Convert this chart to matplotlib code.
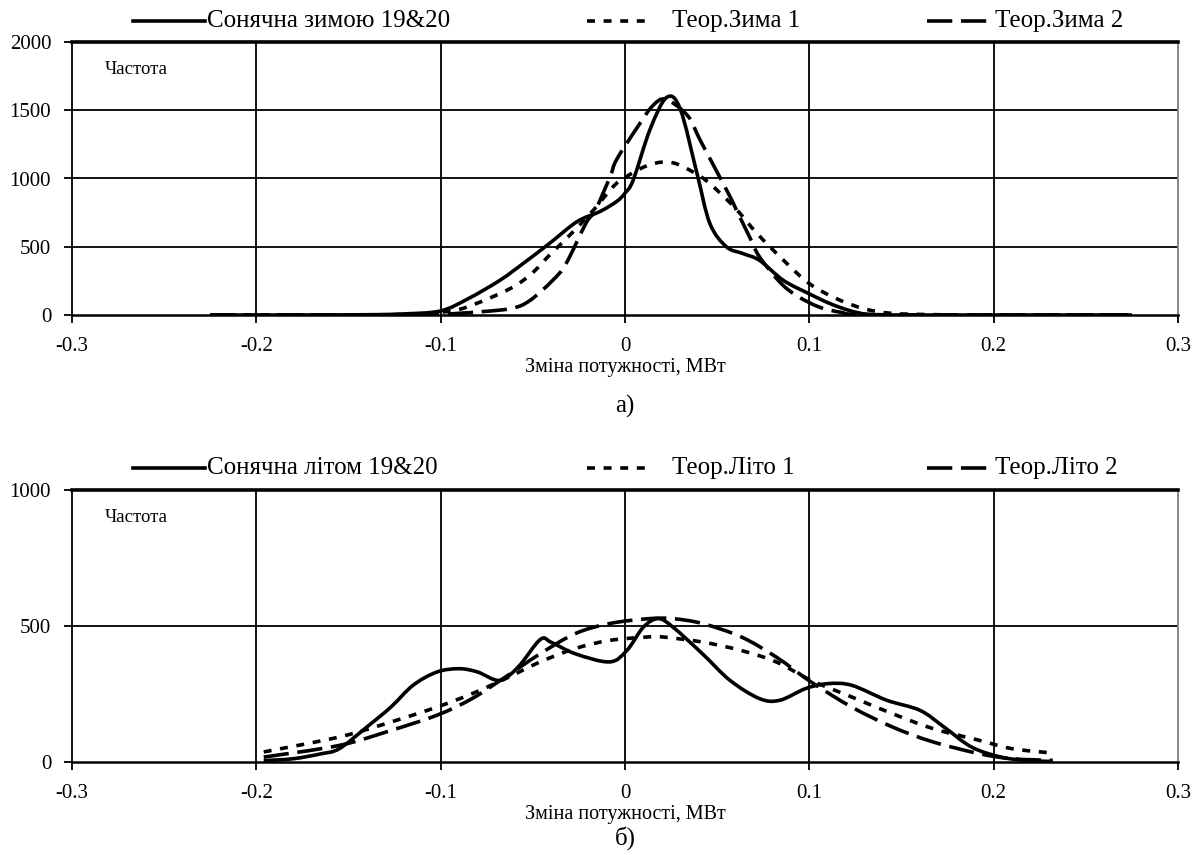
import matplotlib
matplotlib.use("Agg")
import numpy as np
import matplotlib.pyplot as plt
from matplotlib.lines import Line2D
from matplotlib.path import Path
from matplotlib.patches import PathPatch

plt.rcParams['font.family'] = ['Liberation Serif', 'DejaVu Serif']

# winter data (a)
w_solid_x = [-0.225, -0.18, -0.14, -0.12, -0.1, -0.085, -0.068, -0.055, -0.041, -0.026, -0.0136,
             -0.0045, 0.0, 0.0045, 0.0136, 0.0226, 0.03, 0.039, 0.046, 0.055, 0.064, 0.073,
             0.086, 0.1, 0.111, 0.122, 0.132, 0.15, 0.2, 0.275]
w_solid_y = [0, 0, 2, 8, 30, 120, 253, 380, 524, 684, 758, 832, 893, 990, 1360, 1594, 1508,
             1040, 672, 500, 450, 400, 253, 155, 85, 32, 5, 0, 0, 0]

w_t1_x = [-0.225, -0.15, -0.12, -0.1, -0.086, -0.0625, -0.0507, -0.041, -0.029, -0.017, -0.0063,
          0.001, 0.0136, 0.026, 0.0408, 0.0507, 0.0607, 0.0716, 0.086, 0.1, 0.115, 0.13, 0.145,
          0.17, 0.2, 0.275]
w_t1_y = [0, 0, 5, 20, 57, 192, 303, 438, 598, 770, 942, 1016, 1102, 1115, 1016, 905, 770, 598,
          401, 230, 118, 45, 12, 2, 0, 0]

w_t2_x = [-0.225, -0.12, -0.1, -0.077, -0.061, -0.0516, -0.0393, -0.032, -0.0212, -0.016, -0.008,
          -0.0045, 0.0072, 0.015, 0.022, 0.034, 0.041, 0.056, 0.06, 0.068, 0.073, 0.084, 0.093,
          0.105, 0.117, 0.13, 0.2, 0.275]
w_t2_y = [0, 0, 5, 25, 50, 106, 253, 376, 672, 770, 1016, 1140, 1385, 1532, 1580, 1460, 1275,
          893, 782, 560, 425, 241, 143, 60, 20, 3, 0, 0]

# summer data (b)
s_solid_x = [-0.196, -0.18, -0.165, -0.155, -0.14, -0.127, -0.115, -0.102, -0.09, -0.08, -0.068,
             -0.058, -0.046, -0.04, -0.027, -0.0084, 0.001, 0.010, 0.018, 0.026, 0.042, 0.057,
             0.073, 0.084, 0.098, 0.110, 0.123, 0.142, 0.160, 0.173, 0.188, 0.204, 0.218, 0.232]
s_solid_y = [5, 12, 30, 49, 129, 202, 282, 331, 343, 331, 300, 349, 450, 440, 398, 368, 410, 496,
             527, 496, 398, 300, 233, 227, 270, 288, 282, 227, 190, 129, 55, 18, 6, 2]

s_t1_x = [-0.196, -0.155, -0.127, -0.102, -0.083, -0.065, -0.046, -0.027, -0.0084, 0.013, 0.020,
          0.042, 0.063, 0.082, 0.101, 0.123, 0.145, 0.167, 0.192, 0.210, 0.232]
s_t1_y = [37, 92, 147, 202, 251, 306, 368, 417, 447, 460, 460, 441, 410, 368, 300, 239, 178, 123,
          80, 49, 33]

s_t2_x = [-0.196, -0.155, -0.127, -0.102, -0.083, -0.065, -0.046, -0.027, -0.0084, 0.013, 0.026,
          0.042, 0.063, 0.082, 0.101, 0.123, 0.145, 0.167, 0.192, 0.210, 0.232]
s_t2_y = [18, 61, 116, 172, 233, 312, 398, 472, 509, 527, 527, 509, 460, 386, 294, 202, 129, 74,
          31, 12, 6]

w_labels = ["Сонячна зимою 19&20", "Теор.Зима 1", "Теор.Зима 2"]
s_labels = ["Сонячна літом 19&20", "Теор.Літо 1", "Теор.Літо 2"]
x_ticks = [-0.3, -0.2, -0.1, 0, 0.1, 0.2, 0.3]
x_ticklabels = ["-0.3", "-0.2", "-0.1", "0", "0.1", "0.2", "0.3"]

LW = 2.6
styles = ['-', (0, (2.2, 2.4)), (0, (7.0, 2.4))]


def smooth_path(x, y):
    # smoothed line like Excel: Bezier segments through the data points
    p = np.column_stack([x, y]).astype(float)
    verts = [p[0]]
    codes = [Path.MOVETO]
    n = len(p)
    for i in range(n - 1):
        p0 = p[max(i - 1, 0)]
        p1, p2 = p[i], p[i + 1]
        p3 = p[min(i + 2, n - 1)]
        c1 = p1 + (p2 - p0) / 6.0
        c2 = p2 - (p3 - p1) / 6.0
        verts += [c1, c2, p2]
        codes += [Path.CURVE4] * 3
    return Path(verts, codes)


fig = plt.figure(figsize=(11.97, 8.55), dpi=100)
ax1 = fig.add_axes([72 / 1197, 1 - 315 / 855, (1178 - 72) / 1197, (315 - 42) / 855])
ax2 = fig.add_axes([72 / 1197, 1 - 762 / 855, (1178 - 72) / 1197, (762 - 490) / 855])


def style_axes(ax, ymax, yticks):
    ax.set_xlim(-0.3, 0.3)
    ax.set_ylim(0, ymax)
    ax.set_xticks(x_ticks)
    ax.set_xticklabels(x_ticklabels)
    ax.set_yticks(yticks)
    for x in x_ticks[1:-1]:
        ax.axvline(x, color='black', lw=1.3, zorder=1)
    for y in yticks[1:-1]:
        ax.axhline(y, color='black', lw=1.3, zorder=1)
    ax.spines['top'].set_linewidth(2.6)
    ax.spines['right'].set_color('#808080')
    ax.spines['right'].set_linewidth(1.3)
    ax.spines['left'].set_linewidth(1.3)
    ax.spines['bottom'].set_linewidth(1.8)
    ax.tick_params(direction='out', length=6, width=1.3, labelsize=15,
                   top=False, right=False)
    ax.tick_params(axis='x', pad=10)
    ax.tick_params(axis='y', pad=9)
    ax.set_xlabel("Зміна потужності, МВт", fontsize=14.5, labelpad=1)
    ax.text(0.03, 0.9, "Частота", transform=ax.transAxes, fontsize=13.5, va='center')


def draw_legend(labels, y_fig):
    handles = [(133, 205), (587, 652), (927, 992)]
    text_x = [207, 672, 995]
    for (x0, x1), tx, st, lab in zip(handles, text_x, styles, labels):
        fig.add_artist(Line2D([x0 / 1197, x1 / 1197], [y_fig, y_fig], color='black', lw=LW,
                              ls=st, transform=fig.transFigure))
        fig.text(tx / 1197, y_fig, lab, fontsize=18, va='center', ha='left')


for ax, xs, ys in [(ax1, [w_solid_x, w_t1_x, w_t2_x], [w_solid_y, w_t1_y, w_t2_y]),
                   (ax2, [s_solid_x, s_t1_x, s_t2_x], [s_solid_y, s_t1_y, s_t2_y])]:
    for x, y, st in zip(xs, ys, styles):
        ax.add_patch(PathPatch(smooth_path(x, y), fill=False, edgecolor='black', lw=LW,
                               ls=st, zorder=3, joinstyle='round'))

style_axes(ax1, 2000, [0, 500, 1000, 1500, 2000])
style_axes(ax2, 1000, [0, 500, 1000])

draw_legend(w_labels, 1 - 21 / 855)
draw_legend(s_labels, 1 - 468 / 855)

fig.text(625 / 1197, 1 - 406 / 855, "а)", fontsize=18, ha='center', va='center')
fig.text(625 / 1197, 1 - 838 / 855, "б)", fontsize=18, ha='center', va='center')

fig.savefig("out.png", dpi=100)
